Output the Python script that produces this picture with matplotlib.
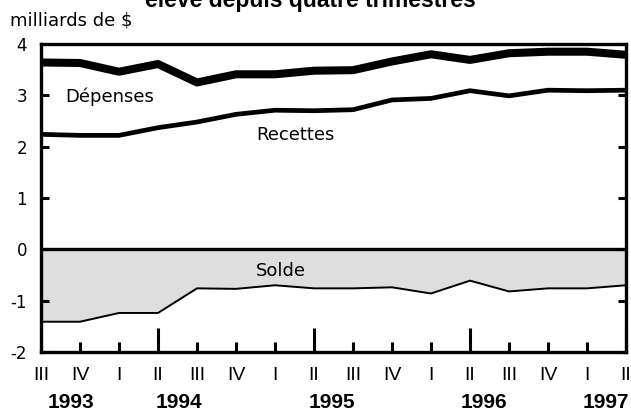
import matplotlib
matplotlib.use("Agg")
import matplotlib.pyplot as plt
import matplotlib.transforms as mtransforms

plt.rcParams['font.family'] = ['DejaVu Sans']

quarters = ["III", "IV", "I", "II", "III", "IV", "I", "II",
            "III", "IV", "I", "II", "III", "IV", "I", "II"]
years = ["1993", "1994", "1995", "1996", "1997"]
year_pos = [0.78, 3.53, 7.46, 11.36, 14.49]

depenses = [3.64, 3.63, 3.46, 3.61, 3.25, 3.41, 3.41, 3.48,
            3.49, 3.66, 3.80, 3.69, 3.82, 3.85, 3.85, 3.79]
recettes = [2.24, 2.22, 2.22, 2.37, 2.48, 2.63, 2.71, 2.70,
            2.72, 2.91, 2.94, 3.09, 2.99, 3.10, 3.09, 3.10]
solde = [-1.41, -1.41, -1.24, -1.24, -0.76, -0.77, -0.70, -0.76,
         -0.76, -0.74, -0.86, -0.61, -0.82, -0.76, -0.76, -0.70]

x = list(range(len(quarters)))
ARIAL = ['Liberation Sans', 'DejaVu Sans']

fig = plt.figure(figsize=(6.31, 4.19), dpi=100)
ax = fig.add_axes([41/631, 1-352/419, (626-41)/631, (352-44)/419])

ax.fill_between(x, 0, solde, color="#dedede", linewidth=0, zorder=1)
ax.plot(x, solde, color="black", lw=1.4, zorder=3)
ax.axhline(0, color="black", lw=2.4, zorder=4)
ax.plot(x, depenses, color="black", lw=5.8, zorder=3, solid_capstyle="butt")
ax.plot(x, recettes, color="black", lw=3.4, zorder=3, solid_capstyle="butt")

ax.set_xlim(0, 15)
ax.set_ylim(-2, 4)
for s in ax.spines.values():
    s.set_linewidth(2.4)
    s.set_zorder(5)

ax.set_yticks([4, 3, 2, 1, 0, -1, -2])
ax.set_yticklabels(["4", "3", "2", "1", "0", "-1", "-2"], fontsize=12)
ax.tick_params(axis="y", direction="in", length=5.5, width=2.2, left=True,
               right=True, pad=10)

ax.set_xticks(x)
ax.set_xticklabels(quarters, fontsize=14, family=ARIAL)
ax.tick_params(axis="x", direction="in", width=2.2, length=7, pad=11,
               top=False)
for i, t in enumerate(ax.xaxis.get_major_ticks()):
    if quarters[i] == "II":
        t.tick1line.set_markersize(17)

trans = mtransforms.blended_transform_factory(ax.transData, fig.transFigure)
for yl, xp in zip(years, year_pos):
    ax.text(xp, 1-402.5/419, yl, transform=trans, ha="center", va="center",
            fontsize=15, fontweight="bold", family=ARIAL)

ax.text(0.62, 2.865, "Dépenses", fontsize=13, ha="left", va="baseline", zorder=6)
ax.text(5.52, 2.125, "Recettes", fontsize=13, ha="left", va="baseline", zorder=6)
ax.text(5.52, -0.526, "Solde", fontsize=13, ha="left", va="baseline", zorder=6)

fig.text(10/631, 1-25/419, "milliards de $", fontsize=13, ha="left",
         va="baseline")
fig.text(310/631, 1-6.5/419, "élevé depuis quatre trimestres", fontsize=16.5,
         fontweight="bold", ha="center", va="baseline", family=ARIAL)

fig.savefig("out.png", dpi=100)
